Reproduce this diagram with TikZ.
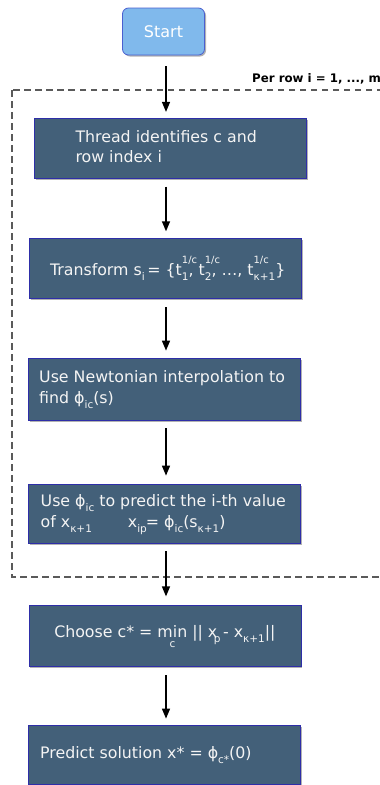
\documentclass[tikz,border=0pt]{standalone}
\usepackage{fontspec}
\setmainfont{DejaVu Sans}
\usetikzlibrary{arrows.meta,shadows}

\definecolor{boxfill}{HTML}{436079}
\definecolor{boxline}{HTML}{2E2EA8}
\definecolor{startfill}{HTML}{80B9EC}
\definecolor{startline}{HTML}{4A5FD0}
\definecolor{loopline}{HTML}{5A5A5A}
\definecolor{boxtextcol}{HTML}{F4F4F4}

% lowered index, and index with a raised exponent stacked over it
\newcommand\lo[1]{\raisebox{-0.32em}{\fontsize{10.5}{11}\selectfont #1}}
\newcommand\losup[2]{\rlap{\raisebox{0.75em}{\fontsize{10}{11}\selectfont #2}}\lo{#1}}
% "min" with its index set underneath
\newcommand\minc{\setbox0\hbox{min}\rlap{\hbox to \wd0{\hss\raisebox{-0.6em}{\fontsize{10.5}{11}\selectfont c}\hss}}\box0}
% box contents: left padding, then left-aligned lines
\newcommand\boxtext[2]{\makebox[272pt][l]{\hspace*{#1}\begin{tabular}{@{}l@{}}#2\end{tabular}}}

\tikzset{
  stage/.style={draw=boxline, line width=0.8pt, fill=boxfill, text=boxtextcol,
    minimum width=272pt, minimum height=60pt, inner sep=0pt,
    font=\fontsize{15.8}{20.5}\selectfont,
    drop shadow={shadow xshift=1.5pt, shadow yshift=-1.5pt, fill=black, opacity=0.3}},
  startbox/.style={draw=startline, line width=0.8pt, fill=startfill, text=white,
    rounded corners=6pt, minimum width=82pt, minimum height=47pt, inner sep=0pt,
    font=\fontsize{16}{19}\selectfont,
    drop shadow={shadow xshift=1.5pt, shadow yshift=-1.5pt, fill=black, opacity=0.3}},
  flow/.style={line width=1.4pt, -{Triangle[length=10pt,width=8pt]}},
  loopframe/.style={draw=loopline, line width=1.2pt, dash pattern=on 6.5pt off 4.5pt},
}

\begin{document}
\begin{tikzpicture}[x=1pt,y=-1pt]
\useasboundingbox (0,0) rectangle (380,785);

% loop frame around the per-row steps
\draw[loopframe] (12,90) rectangle (420,577);
\node[anchor=base west, inner sep=0pt, font=\fontsize{11.8}{14}\selectfont\bfseries] (looplabel) at (252,82) {Per row i = 1, ..., m};

\coordinate (axis) at (166,0);

\node[startbox] (start) at (163.5,31.5) {Start};

\node[stage] (s1) at (170.5,148.3) {\boxtext{41pt}{Thread identifies c and\\row index i}};
\node[stage, minimum width=271pt] (s2) at (165,268.7) {\boxtext{21pt}{Transform s\lo{i}\,= \{t\losup{1}{1/c}, t\losup{2}{1/c}, …, t\losup{κ+1}{1/c}\}}};
\node[stage, minimum height=62pt] (s3) at (164.2,389) {\boxtext{11pt}{Use Newtonian interpolation to\\find ϕ\lo{ic}(s)}};
\node[stage, minimum height=59pt] (s4) at (164.2,513.5) {\boxtext{12.5pt}{Use ϕ\lo{ic} to predict the i-th value\\of x\lo{κ+1}\hspace{36pt}x\lo{ip}\kern-1pt= ϕ\lo{ic}(s\lo{κ+1})}};
\node[stage, minimum height=61pt] (s5) at (164.9,636.3) {Choose c* = \minc{} || x\kern-0.22em\lo{p}\,- x\lo{κ+1}||};
\node[stage, minimum height=59pt] (s6) at (164.2,754.5) {\boxtext{12pt}{Predict solution x* = ϕ\lo{c*}(0)}};

% connectors along the main axis
\draw[flow, shorten <=11pt, shorten >=6pt] (start.south -| axis) -- (s1.north -| axis);
\draw[flow, shorten <=8pt, shorten >=7pt] (s1.south -| axis) -- (s2.north -| axis);
\draw[flow, shorten <=8pt, shorten >=7pt] (s2.south -| axis) -- (s3.north -| axis);
\draw[flow, shorten <=8pt, shorten >=8pt] (s3.south -| axis) -- (s4.north -| axis);
\draw[flow, shorten <=8pt, shorten >=9pt] (s4.south -| axis) -- (s5.north -| axis);
\draw[flow, shorten <=8pt, shorten >=6pt] (s5.south -| axis) -- (s6.north -| axis);
\end{tikzpicture}
\end{document}
